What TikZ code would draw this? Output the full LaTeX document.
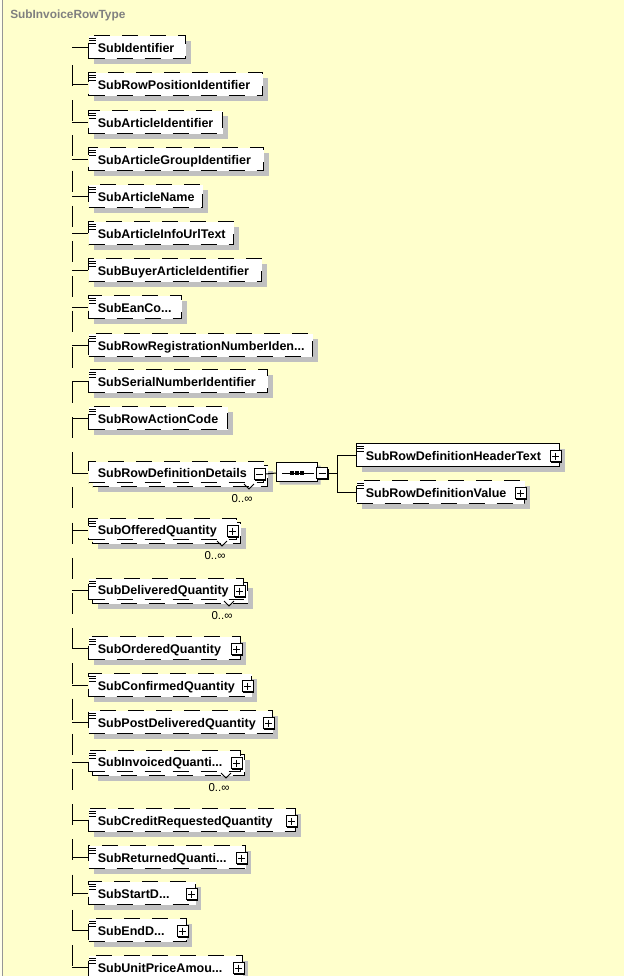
\documentclass[tikz,border=0pt]{standalone}
\usepackage{fontspec}
\setmainfont{Liberation Sans}
\usetikzlibrary{shapes.misc,shadows,calc}
\definecolor{bg}{RGB}{255,255,204}
\definecolor{shadowgray}{RGB}{192,192,192}
\definecolor{titlegray}{RGB}{128,128,128}
\definecolor{edgegray}{RGB}{150,150,150}
\tikzset{
  conn/.style={draw=black, line width=0.75pt},
  boxbase/.style={rectangle, draw=black, fill=white, line width=0.75pt, inner sep=0pt, minimum height=23*0.75pt},
  shad/.style={drop shadow={shadow xshift=3.75pt, shadow yshift=-3.75pt, fill=shadowgray, opacity=1}},
  reqbox/.style={boxbase, shad},
  optbox/.style={boxbase, shad, dash pattern=on 12pt off 9pt},
  optplain/.style={boxbase, dash pattern=on 12pt off 9pt},
  etext/.style={font=\bfseries\fontsize{9.4pt}{11pt}\selectfont, inner sep=0pt, text height=6.8pt, text depth=0pt, anchor=west},
  mult/.style={font=\fontsize{8.6pt}{10pt}\selectfont, inner sep=0pt},
  pm/.style={rectangle, draw=black, fill=white, line width=0.75pt, minimum size=11*0.75pt, inner sep=0pt,
    drop shadow={shadow xshift=0.75pt, shadow yshift=-0.75pt, fill=black, opacity=1}},
}
% plus / minus box
\newcommand\pmbox[3]{%
  \node[pm] (#1) at (#2) {};
  \draw[line width=0.75pt] ($(#1.center)+(-3.5,0)$) -- ($(#1.center)+(3.5,0)$);
  \ifnum#3=1 \draw[line width=0.75pt] ($(#1.center)+(0,-3.5)$) -- ($(#1.center)+(0,3.5)$);\fi
}
% element box: name, y, left, right, style, text, spine x
\newcommand\elbox[7]{%
  \node[#5, minimum width={(#4-#3)*0.75pt}, anchor=west] (#1) at (#3,#2) {};
  \node[etext] (#1-t) at (#3+9.5,#2+0.5) {#6};
  \coordinate (#1-s) at (#7,#2);
  \draw[conn] (#1-s) -- (#1.west);
}
% repeated element: name, y, right, text
\newcommand\elmulti[4]{%
  \node[optbox, minimum width={(#3-88)*0.75pt}, minimum height=21*0.75pt, anchor=north west] (#1-b) at (92,#2-8) {};
  \node[optplain, minimum width={(#3-88)*0.75pt}, minimum height=21*0.75pt, anchor=north west] (#1) at (88,#2-12) {};
  \node[etext] (#1-t) at (97.5,#2) {#4};
  \coordinate (#1-s) at (72,#2);
  \draw[conn] (#1-s) -- (#1-s -| #1.west);
  \draw[conn] (#3-19,#2+11) -- (#3-14,#2+16) -- (#3-9,#2+11);
  \node[mult] (#1-m) at (#3-21,#2+26) {0..∞};
}
\newcommand\elicon[1]{%
  \foreach \k in {3,5.5,8}{\draw[line width=0.75pt] ($(#1.north west)+(1,\k)$) -- ++(7,0);}
}
\newcommand\plusfor[2]{\pmbox{#1-p}{$(#1.east |- #1-s)+(-4.5,1)$}{#2}}

\begin{document}
\begin{tikzpicture}[x=0.75pt,y=-0.75pt]
\useasboundingbox (0,0) rectangle (624,976);
\fill[bg] (0,0) rectangle (624,976);
\fill[white!60!bg] (0,0) rectangle (2,976);
\draw[edgegray, line width=0.75pt] (2,0) -- (2,976);

\node[font=\bfseries\fontsize{8.9pt}{10pt}\selectfont, text=titlegray, anchor=west, inner sep=0pt] (title) at (10,15) {SubInvoiceRowType};

% spine
\coordinate (spinetop) at (72,65);
\coordinate (spinebot) at (72,976);
\draw[conn, dash pattern=on 15.75pt off 10.65pt] (spinetop) -- (spinebot);

\elbox{e1}{47}{88}{185}{optbox}{SubIdentifier}{72} \elicon{e1}
\elbox{e2}{84}{88}{262}{optbox}{SubRowPositionIdentifier}{72} \elicon{e2}
\elbox{e3}{122}{88}{222}{optbox}{SubArticleIdentifier}{72} \elicon{e3}
\elbox{e4}{159}{88}{263}{optbox}{SubArticleGroupIdentifier}{72} \elicon{e4}
\elbox{e5}{196}{88}{202}{optbox}{SubArticleName}{72} \elicon{e5}
\elbox{e6}{233}{88}{233}{optbox}{SubArticleInfoUrlText}{72} \elicon{e6}
\elbox{e7}{270}{88}{261}{optbox}{SubBuyerArticleIdentifier}{72} \elicon{e7}
\elbox{e8}{307}{88}{181}{optbox}{SubEanCo...}{72} \elicon{e8}
\elbox{e9}{345}{88}{312}{optbox}{SubRowRegistrationNumberIden...}{72} \elicon{e9}
\elbox{e10}{381}{88}{267}{optbox}{SubSerialNumberIdentifier}{72} \elicon{e10}
\elbox{e11}{418}{88}{227}{optbox}{SubRowActionCode}{72} \elicon{e11}

\elmulti{e12}{473}{263}{SubRowDefinitionDetails}
\plusfor{e12}{0}

\elmulti{e13}{530}{236}{SubOfferedQuantity} \elicon{e13} \plusfor{e13}{1}
\elmulti{e14}{590}{243}{SubDeliveredQuantity} \elicon{e14} \plusfor{e14}{1}

\elbox{e15}{648}{88}{240}{optbox}{SubOrderedQuantity}{72} \elicon{e15} \plusfor{e15}{1}
\elbox{e16}{685}{88}{251}{optbox}{SubConfirmedQuantity}{72} \elicon{e16} \plusfor{e16}{1}
\elbox{e17}{722}{88}{272}{optbox}{SubPostDeliveredQuantity}{72} \elicon{e17} \plusfor{e17}{1}
\elmulti{e18}{762}{240}{SubInvoicedQuanti...} \elicon{e18} \plusfor{e18}{1}
\elbox{e19}{820}{88}{295}{optbox}{SubCreditRequestedQuantity}{72} \elicon{e19} \plusfor{e19}{1}
\elbox{e20}{857}{88}{245}{optbox}{SubReturnedQuanti...}{72} \elicon{e20} \plusfor{e20}{1}
\elbox{e21}{893}{88}{195}{optbox}{SubStartD...}{72} \elicon{e21} \plusfor{e21}{1}
\elbox{e22}{930}{88}{186}{optbox}{SubEndD...}{72} \elicon{e22} \plusfor{e22}{1}
\elbox{e23}{967}{88}{242}{optbox}{SubUnitPriceAmou...}{72} \elicon{e23} \plusfor{e23}{1}

% sequence compositor
\node[chamfered rectangle, chamfered rectangle xsep=3.5pt, draw=black, fill=white, line width=0.75pt,
  minimum width=41*0.75pt, minimum height=19*0.75pt, inner sep=0pt,
  drop shadow={shadow xshift=2.25pt, shadow yshift=-2.25pt, fill=shadowgray, opacity=1}] (seq) at (297,472) {};
\draw[conn] ($(seq.center)+(-15,1)$) -- ($(seq.center)+(17,1)$);
\foreach \dx in {-5,0,5}{\fill ($(seq.center)+(\dx-2,-1)$) rectangle ($(seq.center)+(\dx+2,3)$);}
\pmbox{seq-m}{322,473}{0}
\draw[conn] (e12-p.east) -- (seq.west |- e12-s);
\coordinate (br) at (337,473);
\draw[conn] (seq-m.east) -- (br);

\elbox{hdr}{455}{356}{559}{reqbox}{SubRowDefinitionHeaderText}{337} \elicon{hdr} \plusfor{hdr}{1}
\elbox{val}{492}{356}{524}{optbox}{SubRowDefinitionValue}{337} \elicon{val} \plusfor{val}{1}
\draw[conn] (hdr-s) -- (val-s);
\end{tikzpicture}
\end{document}
